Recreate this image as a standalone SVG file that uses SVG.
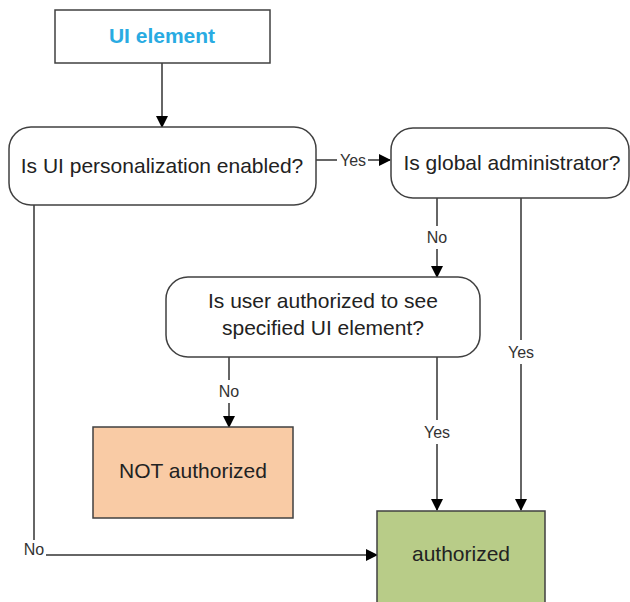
<svg xmlns="http://www.w3.org/2000/svg" width="630" height="602" viewBox="0 0 630 602">
<style>
.box{stroke:#404040;stroke-width:1.5}
.t{font-family:"Liberation Sans",Arial,sans-serif;font-size:21px;fill:#222;text-anchor:middle}
.lbl{font-family:"Liberation Sans",Arial,sans-serif;font-size:16px;fill:#333;text-anchor:middle}
.c{stroke:#333;stroke-width:1.5;fill:none}
</style>
<defs>
<marker id="ah" markerWidth="12" markerHeight="12" refX="11" refY="6" orient="auto" markerUnits="userSpaceOnUse">
<path d="M0,0 L12,6 L0,12 Z" fill="#000"/>
</marker>
</defs>
<rect width="630" height="602" fill="#fff"/>
<g id="connectors">
<line class="c" x1="162" y1="63" x2="162" y2="127" marker-end="url(#ah)"/>
<line class="c" x1="316" y1="160" x2="337" y2="160"/>
<line class="c" x1="368" y1="160" x2="390" y2="160" marker-end="url(#ah)"/>
<text class="lbl" x="353" y="166">Yes</text>
<line class="c" x1="437" y1="197" x2="437" y2="226"/>
<line class="c" x1="437" y1="249" x2="437" y2="277" marker-end="url(#ah)"/>
<text class="lbl" x="437" y="243">No</text>
<line class="c" x1="521" y1="197" x2="521" y2="340"/>
<line class="c" x1="521" y1="364" x2="521" y2="510" marker-end="url(#ah)"/>
<text class="lbl" x="521" y="358">Yes</text>
<line class="c" x1="229" y1="357" x2="229" y2="380"/>
<line class="c" x1="229" y1="403" x2="229" y2="427" marker-end="url(#ah)"/>
<text class="lbl" x="229" y="397">No</text>
<line class="c" x1="437" y1="357" x2="437" y2="420"/>
<line class="c" x1="437" y1="444" x2="437" y2="510" marker-end="url(#ah)"/>
<text class="lbl" x="437" y="438">Yes</text>
<line class="c" x1="34" y1="205" x2="34" y2="540"/>
<line class="c" x1="46" y1="555" x2="377" y2="555" marker-end="url(#ah)"/>
<text class="lbl" x="34" y="555">No</text>
</g>
<g id="ui-element">
<rect class="box" x="55" y="10" width="215" height="53" fill="#fff"/>
<text x="162" y="43" font-family="Liberation Sans,Arial,sans-serif" font-size="21" font-weight="bold" fill="#29abe2" text-anchor="middle">UI element</text>
</g>
<g id="q-personalization">
<rect class="box" x="9" y="127" width="307" height="78" rx="22" fill="#fff"/>
<text class="t" x="162" y="173">Is UI personalization enabled?</text>
</g>
<g id="q-global-admin">
<rect class="box" x="391" y="128" width="238" height="70" rx="22" fill="#fff"/>
<text class="t" x="512" y="170">Is global administrator?</text>
</g>
<g id="q-user-authorized">
<rect class="box" x="166" y="277" width="314" height="80" rx="22" fill="#fff"/>
<text class="t" x="323" y="308">Is user authorized to see</text>
<text class="t" x="323" y="335">specified UI element?</text>
</g>
<g id="not-authorized">
<rect class="box" x="93" y="427" width="200" height="91" fill="#f9cba5"/>
<text class="t" x="193" y="478">NOT authorized</text>
</g>
<g id="authorized">
<rect class="box" x="377" y="511" width="168" height="98" fill="#b8cc88"/>
<text class="t" x="461" y="561">authorized</text>
</g>
</svg>
